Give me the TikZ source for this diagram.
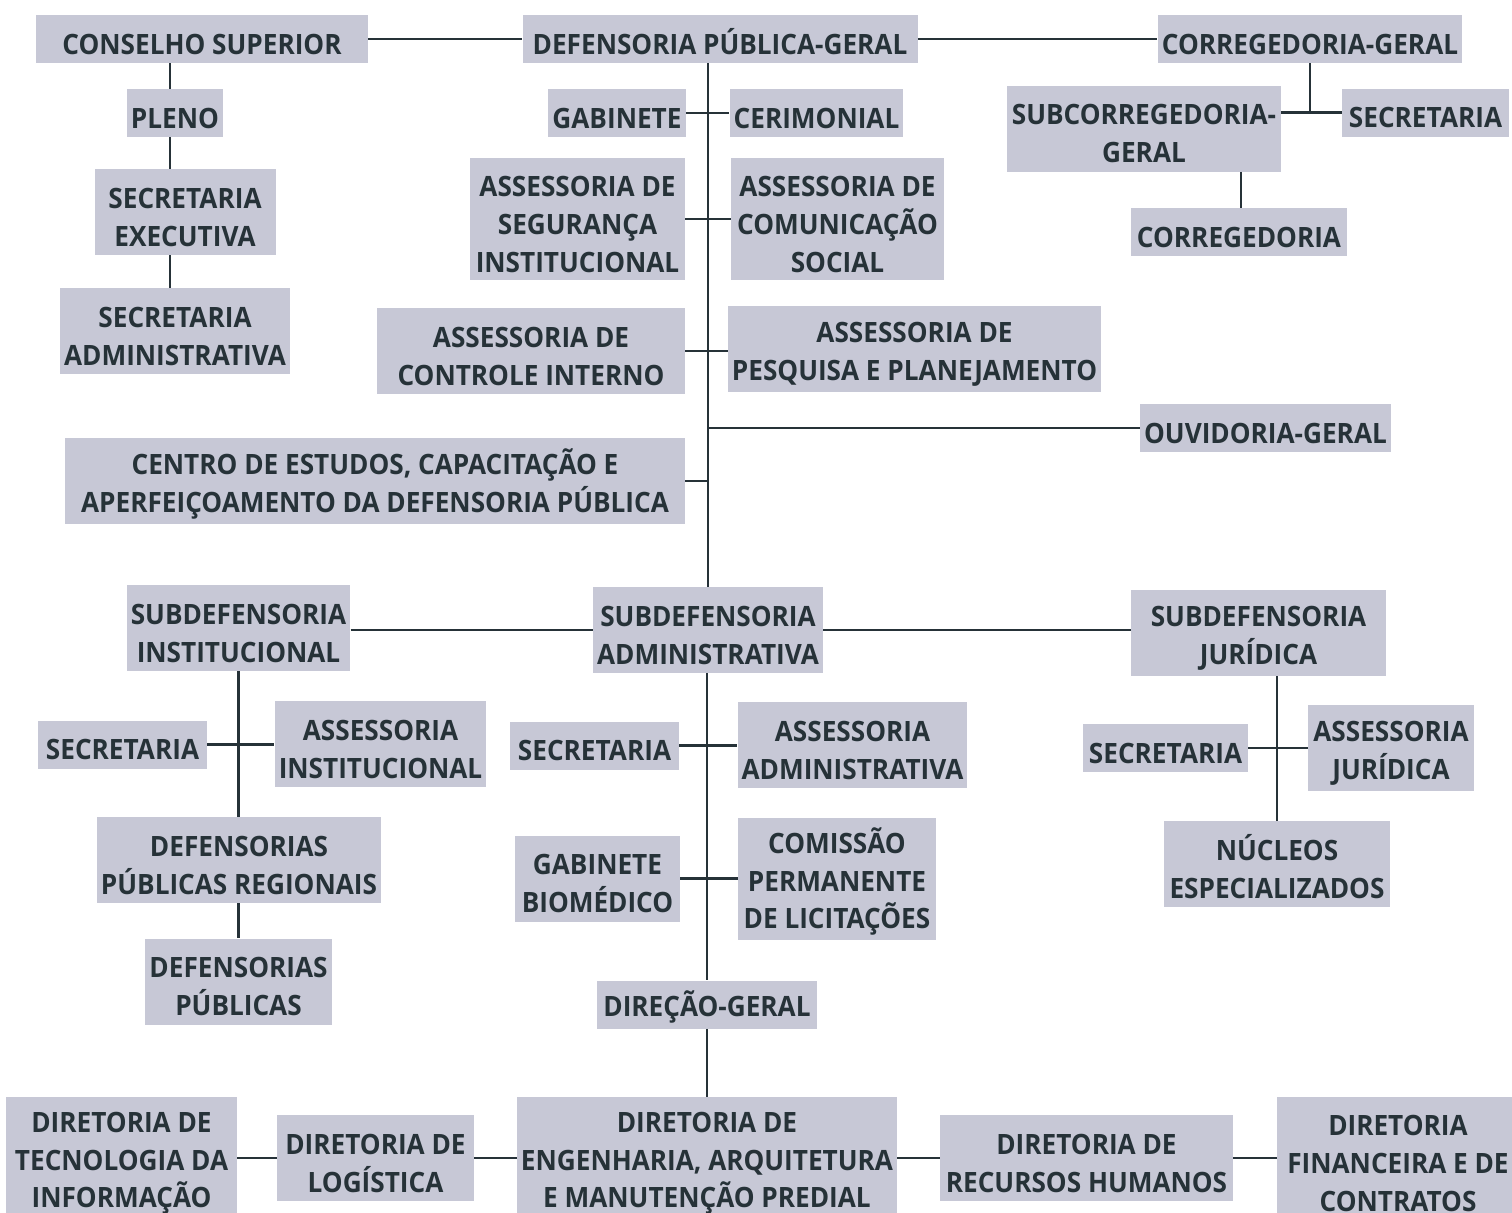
\documentclass[tikz,border=0pt]{standalone}
\usepackage{fontspec}
\setmainfont{Open Sans}[BoldFeatures={FakeStretch=0.935}]
\definecolor{boxfill}{HTML}{C7C8D6}
\definecolor{ink}{HTML}{263238}
\newcommand\lifttext{\rule{0pt}{15.5pt}}
\tikzset{
  box/.style={fill=boxfill, text=ink, font=\bfseries\fontsize{14}{18.9}\selectfont,
    align=center, inner xsep=2pt, inner ysep=0pt, minimum height=24pt,
    execute at begin node={\lifttext}},
  box2/.style={box, minimum height=43pt},
  box3/.style={box, minimum height=61pt},
  link/.style={draw=ink, line width=1.2pt}
}
\begin{document}
\begin{tikzpicture}[x=0.5pt, y=-0.5pt]
    \useasboundingbox (0,0) rectangle (1512,1212);

    % Top row
    \node[box, minimum width=166pt] (cs) at (202,39) {CONSELHO SUPERIOR};
    \node[box, minimum width=197.5pt] (dpg) at (720,39) {DEFENSORIA PÚBLICA-GERAL};
    \node[box, minimum width=151.5pt] (cg) at (1310,39) {CORREGEDORIA-GERAL};
    \draw[link] (cs.east) -- (dpg.west);
    \draw[link] (dpg.east) -- (cg.west);

    % Conselho superior
    \node[box, minimum width=47pt] (pleno) at (175,113) {PLENO};
    \node[box2, minimum width=90.5pt] (secexec) at (185,212) {\lifttext SECRETARIA\\EXECUTIVA};
    \node[box2, minimum width=113pt] (secadm) at (175,331) {\lifttext SECRETARIA\\ADMINISTRATIVA};
    \draw[link] (170,0 |- cs.south) -- (170,0 |- pleno.north);
    \draw[link] (170,0 |- pleno.south) -- (170,0 |- secexec.north);
    \draw[link] (170,0 |- secexec.south) -- (170,0 |- secadm.north);

    % Corregedoria-geral
    \node[box2, minimum width=137pt] (scg) at (1144,128.5) {\lifttext SUBCORREGEDORIA-\\GERAL};
    \node[box, minimum width=83.5pt] (cgsec) at (1425.5,112.5) {SECRETARIA};
    \node[box, minimum width=108pt] (corr) at (1239,232) {CORREGEDORIA};
    \draw[link] (cg.south) -- (cg.south |- cgsec.west);
    \draw[link] (scg.east |- cgsec.west) -- (cgsec.west);
    \draw[link] (1241,0 |- scg.south) -- (1241,0 |- corr.north);

    % Defensoria publica-geral
    \node[box, minimum width=68pt] (gab) at (617,113) {GABINETE};
    \node[box, minimum width=85.5pt] (cer) at (816.5,113) {CERIMONIAL};
    \node[box3, minimum width=107.5pt] (aseg) at (577.5,219) {\lifttext ASSESSORIA DE\\SEGURANÇA\\INSTITUCIONAL};
    \node[box3, minimum width=106.5pt] (acom) at (837.5,219) {\lifttext ASSESSORIA DE\\COMUNICAÇÃO\\SOCIAL};
    \node[box2, minimum width=154pt] (acint) at (531,351) {\lifttext ASSESSORIA DE\\CONTROLE INTERNO};
    \node[box2, minimum width=183.5pt] (apesq) at (914.5,349) {\lifttext ASSESSORIA DE\\PESQUISA E PLANEJAMENTO};
    \node[box, minimum width=124.5pt] (ouv) at (1265.5,428) {OUVIDORIA-GERAL};
    \node[box2, minimum width=310pt] (centro) at (375,481) {\lifttext CENTRO DE ESTUDOS, CAPACITAÇÃO E\\APERFEIÇOAMENTO DA DEFENSORIA PÚBLICA};

    % Subdefensorias
    \node[box2, minimum width=114pt] (sa) at (708,630) {\lifttext SUBDEFENSORIA\\ADMINISTRATIVA};
    \node[box2, minimum width=111.5pt] (sinst) at (238.5,628) {\lifttext SUBDEFENSORIA\\INSTITUCIONAL};
    \node[box2, minimum width=127.5pt] (sjur) at (1258.5,633) {\lifttext SUBDEFENSORIA\\JURÍDICA};

    \draw[link] (sa.north |- dpg.south) -- (sa.north);
    \draw[link] (gab.east) -- (cer.west);
    \draw[link] (aseg.east) -- (acom.west);
    \draw[link] (acint.east) -- (acint.east -| apesq.west);
    \draw[link] (ouv.west) -- (ouv.west -| sa.north);
    \draw[link] (centro.east) -- (centro.east -| sa.north);
    \draw[link] (sinst.east |- sa.west) -- (sa.west);
    \draw[link] (sa.east) -- (sjur.west |- sa.east);

    % Subdefensoria institucional
    \node[box, minimum width=84.5pt] (isec) at (122.5,744.5) {SECRETARIA};
    \node[box2, minimum width=104.5pt] (iass) at (380.5,744) {\lifttext ASSESSORIA\\INSTITUCIONAL};
    \node[box2, minimum width=140pt] (dpr) at (239,860) {\lifttext DEFENSORIAS\\PÚBLICAS REGIONAIS};
    \node[box2, minimum width=92.5pt] (dp) at (238.5,981.5) {\lifttext DEFENSORIAS\\PÚBLICAS};
    \draw[link] (sinst.south) -- (sinst.south |- dpr.north);
    \draw[link] (isec.east) -- (iass.west |- isec.east);
    \draw[link] (dp.north |- dpr.south) -- (dp.north);

    % Subdefensoria administrativa
    \node[box, minimum width=84.5pt] (asec) at (594.5,745.5) {SECRETARIA};
    \node[box2, minimum width=114.5pt] (aass) at (852.5,745) {\lifttext ASSESSORIA\\ADMINISTRATIVA};
    \node[box2, minimum width=82.5pt] (gbio) at (597.5,878.5) {\lifttext GABINETE\\BIOMÉDICO};
    \node[box3, minimum width=99pt] (cpl) at (837,879) {\lifttext COMISSÃO\\PERMANENTE\\DE LICITAÇÕES};
    \node[box, minimum width=110pt] (dg) at (707,1004.5) {DIREÇÃO-GERAL};
    \draw[link] (dg.north |- sa.south) -- (dg.north);
    \draw[link] (asec.east) -- (aass.west |- asec.east);
    \draw[link] (gbio.east) -- (cpl.west |- gbio.east);

    % Subdefensoria juridica
    \node[box, minimum width=82.5pt] (jsec) at (1165.5,748) {SECRETARIA};
    \node[box2, minimum width=83pt] (jass) at (1391,748) {\lifttext ASSESSORIA\\JURÍDICA};
    \node[box2, minimum width=113pt] (nucleos) at (1277,864) {\lifttext NÚCLEOS\\ESPECIALIZADOS};
    \draw[link] (nucleos.north |- sjur.south) -- (nucleos.north);
    \draw[link] (jsec.east) -- (jass.west);

    % Diretorias
    \node[box3, minimum width=115.5pt] (dti) at (121.5,1158) {\lifttext DIRETORIA DE\\TECNOLOGIA DA\\INFORMAÇÃO};
    \node[box2, minimum width=98.5pt] (dlog) at (375.5,1158) {\lifttext DIRETORIA DE\\LOGÍSTICA};
    \node[box3, minimum width=190pt] (deng) at (707,1158) {\lifttext DIRETORIA DE\\ENGENHARIA, ARQUITETURA\\E MANUTENÇÃO PREDIAL};
    \node[box2, minimum width=146.5pt] (drh) at (1086.5,1158) {\lifttext DIRETORIA DE\\RECURSOS HUMANOS};
    \node[box3, minimum width=121pt] (dfin) at (1398,1158) {\lifttext DIRETORIA\\FINANCEIRA E DE\\CONTRATOS};
    \draw[link] (dg.south) -- (deng.north);
    \draw[link] (dti.east) -- (dlog.west);
    \draw[link] (dlog.east) -- (deng.west);
    \draw[link] (deng.east) -- (drh.west);
    \draw[link] (drh.east) -- (dfin.west);
\end{tikzpicture}
\end{document}
